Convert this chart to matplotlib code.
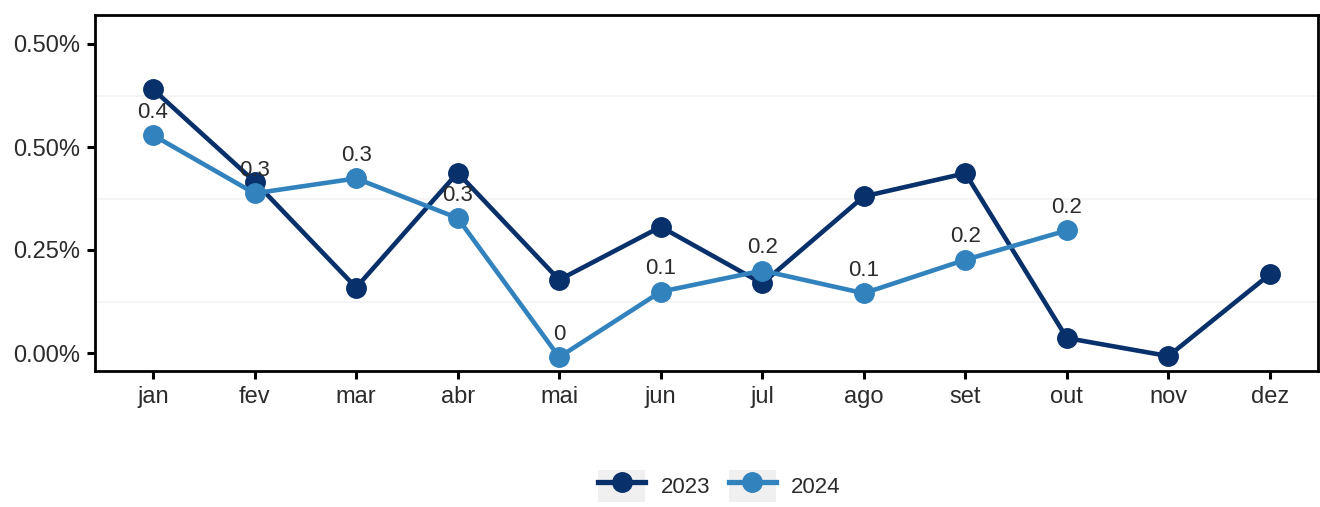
import numpy as np
import matplotlib
matplotlib.use("Agg")
import matplotlib.pyplot as plt
from matplotlib.lines import Line2D
from matplotlib.patches import Rectangle

# dados
meses = ["jan", "fev", "mar", "abr", "mai", "jun", "jul", "ago", "set", "out", "nov", "dez"]
v2023 = [0.512, 0.333, 0.127, 0.350, 0.142, 0.245, 0.135, 0.304, 0.349, 0.029, -0.006, 0.153]
v2024 = [0.423, 0.310, 0.339, 0.262, -0.008, 0.119, 0.160, 0.116, 0.181, 0.238]
yticks = [0.0, 0.2, 0.4, 0.6]
ytick_labels = ["0.00%", "0.25%", "0.50%", "0.50%"]

c2023 = "#08306b"
c2024 = "#3182bd"
txt = "#2b2b2b"

plt.rcParams["font.family"] = ["Liberation Sans", "DejaVu Sans"]

fig = plt.figure(figsize=(13.2, 5.07), dpi=100)
ax = fig.add_axes([95 / 1320, 136 / 507, (1318 - 95) / 1320, (371 - 15) / 507])

x23 = np.arange(1, len(v2023) + 1)
x24 = np.arange(1, len(v2024) + 1)

ax.plot(x23, v2023, color=c2023, lw=3.3, marker="o", ms=14, zorder=3)
ax.plot(x24, v2024, color=c2024, lw=3.3, marker="o", ms=14, zorder=4)

for xi, yi in zip(x24, v2024):
    lab = f"{round(yi, 1):g}"
    if lab == "-0":
        lab = "0"
    ax.annotate(lab, (xi, yi), xytext=(0, 9), textcoords="offset points",
                ha="center", va="bottom", fontsize=16, color=txt, zorder=5)

ax.set_xlim(1 - 58 / 101.5, 12 + 48 / 101.5)
ax.set_ylim(-18 / 515, 0.6 + 29 / 515)
ax.set_xticks(x23)
ax.set_xticklabels(meses)
ax.set_yticks(yticks)
ax.set_yticklabels(ytick_labels)
ax.set_yticks([0.1, 0.3, 0.5], minor=True)
ax.tick_params(axis="y", which="minor", length=0)
ax.grid(axis="y", which="minor", color="#f2f2f2", lw=1.2)
ax.set_axisbelow(True)
ax.tick_params(axis="both", which="major", length=6, width=2.2, color="black",
               labelsize=17, labelcolor=txt, pad=5)
for s in ax.spines.values():
    s.set_linewidth(2)
    s.set_color("black")

def key(c):
    box = Rectangle((0, 0), 1, 1, facecolor="#f0f0f0", edgecolor="none")
    ln = Line2D([], [], color=c, lw=3.8, marker="o", ms=14)
    return (box, ln)

fig.legend([key(c2023), key(c2024)], ["2023", "2024"], loc="center",
           bbox_to_anchor=(0.545, 1 - 486 / 507), ncol=2, frameon=False,
           fontsize=16, labelcolor=txt, handlelength=2.1, handleheight=1.85,
           handletextpad=0.7, columnspacing=0.85, borderaxespad=0)

fig.savefig("out.png", dpi=100)
